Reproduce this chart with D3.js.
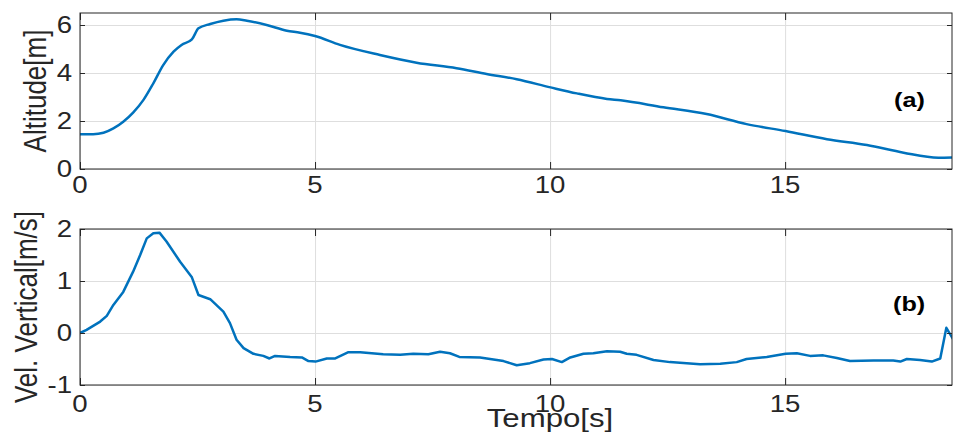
<!DOCTYPE html>
<html>
<head>
<meta charset="utf-8">
<script src="https://cdn.jsdelivr.net/npm/d3@7"></script>
<style>
  body { margin: 0; background: #fff; }
  svg { display: block; font-family: "Liberation Sans", Arial, sans-serif; }
  .grid line { stroke: #dedede; stroke-width: 1; }
  .grid path { display: none; }
  .ticks path { display: none; }
  .ticks line { stroke: #262626; }
  .frame { fill: none; stroke: #262626; stroke-width: 1; }
  .tick-label { fill: #262626; font-size: 23px; }
  .axis-label { fill: #262626; font-size: 26px; }
  .panel-tag { fill: #000; font-size: 21px; font-weight: bold; }
</style>
</head>
<body>
<svg id="chart" width="954" height="435"></svg>
<script>
// altitude (top panel)
const altTime = [0, 0.28, 0.5, 0.71, 0.92, 1.13, 1.35, 1.56, 1.77, 1.99, 2.16, 2.38, 2.52, 2.77,
  3.05, 3.33, 3.55, 3.97, 4.4, 4.68, 5.0, 5.53, 6.38, 7.16, 8.01, 8.65, 9.29, 10.01, 10.57,
  11.21, 11.5, 12.41, 13.33, 14.18, 15.01, 15.89, 16.74, 17.52, 18.26, 18.6];
const altValue = [1.45, 1.45, 1.51, 1.69, 1.97, 2.35, 2.88, 3.57, 4.33, 4.89, 5.17, 5.4, 5.86, 6.04,
  6.18, 6.24, 6.18, 6.0, 5.76, 5.68, 5.54, 5.17, 4.75, 4.43, 4.2, 3.96, 3.74, 3.4, 3.15,
  2.92, 2.86, 2.57, 2.29, 1.87, 1.58, 1.24, 1.0, 0.68, 0.47, 0.48];

// vertical velocity (bottom panel)
const velTime = [0, 0.14, 0.43, 0.57, 0.71, 0.92, 1.13, 1.28, 1.42, 1.56, 1.69, 1.84, 2.13, 2.38,
  2.52, 2.77, 3.05, 3.19, 3.33, 3.48, 3.69, 3.9, 4.03, 4.15, 4.47, 4.72, 4.86, 5.01, 5.25, 5.43,
  5.71, 5.96, 6.45, 6.81, 7.09, 7.41, 7.66, 7.87, 8.07, 8.51, 9.01, 9.29, 9.57, 9.86, 10.04,
  10.25, 10.43, 10.71, 10.92, 11.21, 11.49, 11.63, 11.84, 12.2, 12.55, 13.19, 13.62, 13.97,
  14.18, 14.61, 15.01, 15.25, 15.53, 15.81, 16.1, 16.38, 16.88, 17.3, 17.45, 17.59, 17.87,
  18.12, 18.3, 18.43, 18.6];
const velValue = [0, 0.06, 0.22, 0.33, 0.54, 0.79, 1.18, 1.5, 1.82, 1.92, 1.93, 1.76, 1.37, 1.07,
  0.73, 0.65, 0.41, 0.19, -0.13, -0.29, -0.4, -0.44, -0.49, -0.44, -0.46, -0.47, -0.54, -0.55,
  -0.49, -0.49, -0.37, -0.37, -0.41, -0.42, -0.4, -0.41, -0.36, -0.39, -0.46, -0.47, -0.54,
  -0.62, -0.58, -0.51, -0.5, -0.56, -0.47, -0.4, -0.39, -0.35, -0.36, -0.4, -0.42, -0.52,
  -0.56, -0.6, -0.59, -0.56, -0.5, -0.46, -0.4, -0.39, -0.44, -0.43, -0.48, -0.54, -0.53,
  -0.53, -0.55, -0.5, -0.52, -0.55, -0.49, 0.1, -0.16];

const xTicks = [0, 5, 10, 15];
const altTicks = [0, 2, 4, 6];
const velTicks = [-1, 0, 1, 2];

const svg = d3.select('#chart');
const LEFT = 80, RIGHT = 952;
const STRETCH = 1.2;

const x = d3.scaleLinear().domain([0, 18.55]).range([LEFT, RIGHT]);

function drawPanel(cfg) {
    const y = d3.scaleLinear().domain(cfg.yDomain).range([cfg.bottom, cfg.top]);
    const g = svg.append('g');
    const h = cfg.bottom - cfg.top;

    // grid
    g.append('g').attr('class', 'grid')
        .attr('transform', `translate(0, ${cfg.bottom})`)
        .call(d3.axisBottom(x).tickValues(xTicks).tickSize(-h).tickFormat(''));
    g.append('g').attr('class', 'grid')
        .attr('transform', `translate(${LEFT}, 0)`)
        .call(d3.axisLeft(y).tickValues(cfg.yTicks).tickSize(-(RIGHT - LEFT)).tickFormat(''));

    // line
    const clipId = 'clip-' + cfg.name;
    g.append('clipPath').attr('id', clipId)
        .append('rect').attr('x', LEFT).attr('y', cfg.top - 3)
        .attr('width', RIGHT - LEFT).attr('height', h + 6);
    const line = d3.line()
        .x(i => x(cfg.t[i]))
        .y(i => y(cfg.v[i]))
        .curve(cfg.curve);
    g.append('path')
        .attr('clip-path', `url(#${clipId})`)
        .attr('d', line(d3.range(cfg.t.length)))
        .attr('fill', 'none')
        .attr('stroke', '#0072BD')
        .attr('stroke-width', 2.5)
        .attr('stroke-linejoin', 'round');

    // inward ticks on all four sides
    g.append('g').attr('class', 'ticks')
        .attr('transform', `translate(0, ${cfg.bottom})`)
        .call(d3.axisBottom(x).tickValues(xTicks).tickSize(-7).tickFormat(''));
    g.append('g').attr('class', 'ticks')
        .attr('transform', `translate(0, ${cfg.top})`)
        .call(d3.axisTop(x).tickValues(xTicks).tickSize(-7).tickFormat(''));
    g.append('g').attr('class', 'ticks')
        .attr('transform', `translate(${LEFT}, 0)`)
        .call(d3.axisLeft(y).tickValues(cfg.yTicks).tickSize(-5).tickFormat(''));
    g.append('g').attr('class', 'ticks')
        .attr('transform', `translate(${RIGHT}, 0)`)
        .call(d3.axisRight(y).tickValues(cfg.yTicks).tickSize(-5).tickFormat(''));

    g.append('rect').attr('class', 'frame')
        .attr('x', LEFT).attr('y', cfg.top)
        .attr('width', RIGHT - LEFT).attr('height', h);

    // tick labels
    g.selectAll('.xlab').data(xTicks).join('text')
        .attr('class', 'tick-label')
        .attr('text-anchor', 'middle')
        .attr('transform', d => `translate(${x(d)}, ${cfg.bottom + cfg.xLabelGap}) scale(${STRETCH},1)`)
        .text(d => d);
    g.selectAll('.ylab').data(cfg.yTicks).join('text')
        .attr('class', 'tick-label')
        .attr('text-anchor', 'end')
        .attr('dy', '0.36em')
        .attr('transform', d => `translate(${LEFT - 8}, ${y(d)}) scale(${STRETCH},1)`)
        .text(d => d);

    // y label
    g.append('text').attr('class', 'axis-label')
        .attr('text-anchor', 'middle')
        .attr('transform', `translate(${cfg.labelX}, ${cfg.labelY}) scale(${STRETCH},1) rotate(-90)`)
        .text(cfg.label);

    g.append('text').attr('class', 'panel-tag')
        .attr('transform', `translate(${cfg.tagX}, ${cfg.tagY}) scale(${STRETCH},1)`)
        .text(cfg.tag);
}

drawPanel({
    name: 'alt', top: 13, bottom: 169, yDomain: [0, 6.5], yTicks: altTicks,
    t: altTime, v: altValue, curve: d3.curveMonotoneX,
    xLabelGap: 24, label: 'Altitude[m]', labelX: 45.5, labelY: 91,
    tag: '(a)', tagX: 894, tagY: 107
});

drawPanel({
    name: 'vel', top: 229, bottom: 385, yDomain: [-1, 2], yTicks: velTicks,
    t: velTime, v: velValue, curve: d3.curveLinear,
    xLabelGap: 27, label: 'Vel. Vertical[m/s]', labelX: 36.5, labelY: 307,
    tag: '(b)', tagX: 893, tagY: 311
});

svg.append('text').attr('class', 'axis-label')
    .attr('text-anchor', 'middle')
    .attr('transform', `translate(550, 427) scale(${STRETCH},1)`)
    .text('Tempo[s]');
</script>
</body>
</html>
